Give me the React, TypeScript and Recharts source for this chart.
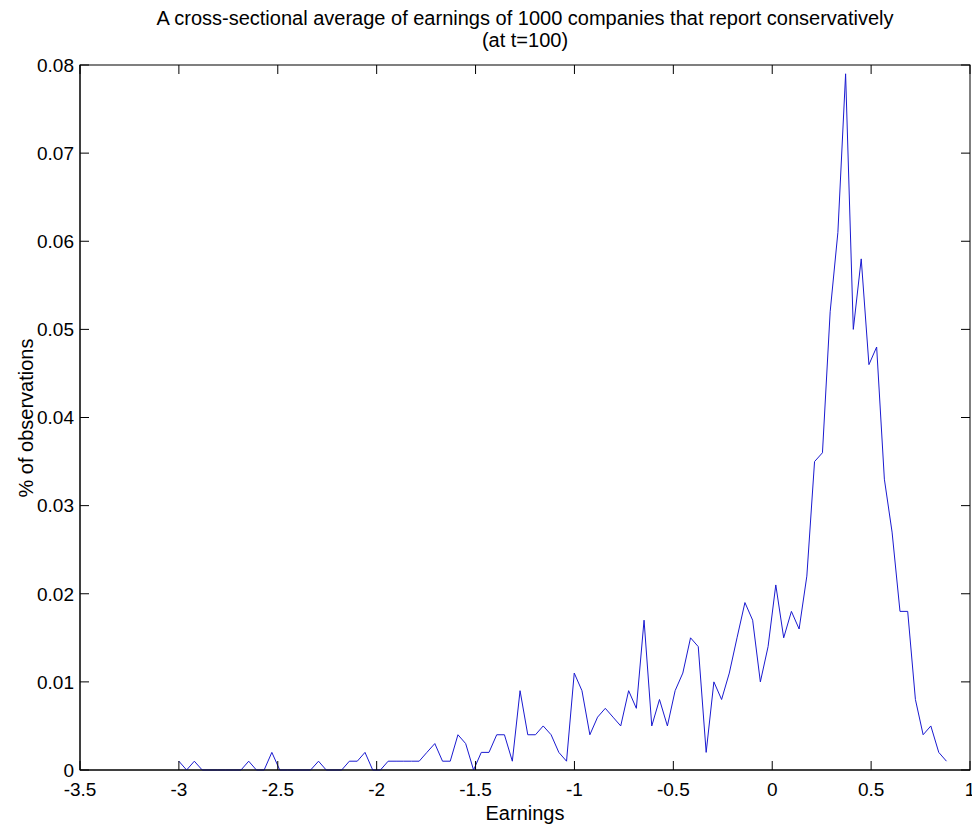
import React from "react";
import { LineChart, Line, XAxis, YAxis } from "recharts";

// histogram bin centres (earnings)
const EARNINGS = [
  -3.0, -2.961, -2.922, -2.882, -2.843, -2.804, -2.765, -2.726, -2.686, -2.647,
  -2.608, -2.569, -2.53, -2.49, -2.451, -2.412, -2.373, -2.334, -2.294, -2.255,
  -2.216, -2.177, -2.138, -2.098, -2.059, -2.02, -1.981, -1.942, -1.902, -1.863,
  -1.824, -1.785, -1.746, -1.706, -1.667, -1.628, -1.589, -1.55, -1.51, -1.471,
  -1.432, -1.393, -1.354, -1.314, -1.275, -1.236, -1.197, -1.158, -1.118, -1.079,
  -1.04, -1.001, -0.962, -0.922, -0.883, -0.844, -0.805, -0.766, -0.726, -0.687,
  -0.648, -0.609, -0.57, -0.53, -0.491, -0.452, -0.413, -0.374, -0.334, -0.295,
  -0.256, -0.217, -0.178, -0.138, -0.099, -0.06, -0.021, 0.018, 0.058, 0.097,
  0.136, 0.175, 0.214, 0.254, 0.293, 0.332, 0.371, 0.41, 0.45, 0.489,
  0.528, 0.567, 0.606, 0.646, 0.685, 0.724, 0.763, 0.802, 0.842, 0.881,
];

// share of observations per bin
const SHARE = [
  0.001, 0, 0.001, 0, 0, 0, 0, 0, 0, 0.001,
  0, 0, 0.002, 0, 0, 0, 0, 0, 0.001, 0,
  0, 0, 0.001, 0.001, 0.002, 0, 0, 0.001, 0.001, 0.001,
  0.001, 0.001, 0.002, 0.003, 0.001, 0.001, 0.004, 0.003, 0, 0.002,
  0.002, 0.004, 0.004, 0.001, 0.009, 0.004, 0.004, 0.005, 0.004, 0.002,
  0.001, 0.011, 0.009, 0.004, 0.006, 0.007, 0.006, 0.005, 0.009, 0.007,
  0.017, 0.005, 0.008, 0.005, 0.009, 0.011, 0.015, 0.014, 0.002, 0.01,
  0.008, 0.011, 0.015, 0.019, 0.017, 0.01, 0.014, 0.021, 0.015, 0.018,
  0.016, 0.022, 0.035, 0.036, 0.052, 0.061, 0.079, 0.05, 0.058, 0.046,
  0.048, 0.033, 0.027, 0.018, 0.018, 0.008, 0.004, 0.005, 0.002, 0.001,
];

const X_TICKS = [-3.5, -3, -2.5, -2, -1.5, -1, -0.5, 0, 0.5, 1];
const Y_TICKS = [0, 0.01, 0.02, 0.03, 0.04, 0.05, 0.06, 0.07, 0.08];

const data = EARNINGS.map((x, i) => ({ x, share: SHARE[i] }));

const FONT = "'Liberation Sans', Arial, sans-serif";
const W = 972;
const H = 825;
const M = { top: 65, right: 2, bottom: 25, left: 10 };
const Y_AXIS_W = 70;
const X_AXIS_H = 30;
const LEFT = M.left + Y_AXIS_W;
const RIGHT = W - M.right;
const TOP = M.top;
const BOTTOM = H - M.bottom - X_AXIS_H;
const TICK = 9;

// matlab style: ticks point inward, mirrored on the opposite side
function XTick(props: any) {
  const { x, payload } = props;
  return (
    <g>
      <line x1={x} x2={x} y1={BOTTOM} y2={BOTTOM - TICK} stroke="#000" />
      <line x1={x} x2={x} y1={TOP} y2={TOP + TICK} stroke="#000" />
      <text x={x} y={BOTTOM + 12} dy="0.72em" textAnchor="middle" fontSize={19} fontFamily={FONT} fill="#000">
        {payload.value}
      </text>
    </g>
  );
}

function YTick(props: any) {
  const { y, payload } = props;
  return (
    <g>
      <line x1={LEFT} x2={LEFT + TICK} y1={y} y2={y} stroke="#000" />
      <line x1={RIGHT} x2={RIGHT - TICK} y1={y} y2={y} stroke="#000" />
      <text x={LEFT - 6} y={y} dy="0.36em" textAnchor="end" fontSize={19} fontFamily={FONT} fill="#000">
        {payload.value}
      </text>
    </g>
  );
}

export default function App() {
  return (
    <div style={{ position: "absolute", left: 0, top: 0, width: W, height: H, background: "#fff" }}>
      <LineChart width={W} height={H} data={data} margin={M}>
        <XAxis
          dataKey="x"
          type="number"
          domain={[-3.5, 1]}
          ticks={X_TICKS}
          interval={0}
          allowDataOverflow
          height={X_AXIS_H}
          tickLine={false}
          tick={<XTick />}
          stroke="#000"
        />
        <YAxis
          type="number"
          domain={[0, 0.08]}
          ticks={Y_TICKS}
          interval={0}
          width={Y_AXIS_W}
          tickLine={false}
          tick={<YTick />}
          stroke="#000"
        />
        <rect x={LEFT} y={TOP} width={RIGHT - LEFT} height={BOTTOM - TOP} fill="none" stroke="#000" />
        <Line
          type="linear"
          dataKey="share"
          stroke="#1a1ad0"
          strokeWidth={1}
          dot={false}
          isAnimationActive={false}
        />
        <text x={525} y={25} textAnchor="middle" fontSize={20} fontFamily={FONT} fill="#000">
          A cross-sectional average of earnings of 1000 companies that report conservatively
        </text>
        <text x={525} y={47} textAnchor="middle" fontSize={20} fontFamily={FONT} fill="#000">
          (at t=100)
        </text>
        <text x={525} y={820} textAnchor="middle" fontSize={20} fontFamily={FONT} fill="#000">
          Earnings
        </text>
        <text
          x={33}
          y={418}
          textAnchor="middle"
          fontSize={20}
          fontFamily={FONT}
          fill="#000"
          transform="rotate(-90 33 418)"
        >
          % of observations
        </text>
      </LineChart>
    </div>
  );
}
